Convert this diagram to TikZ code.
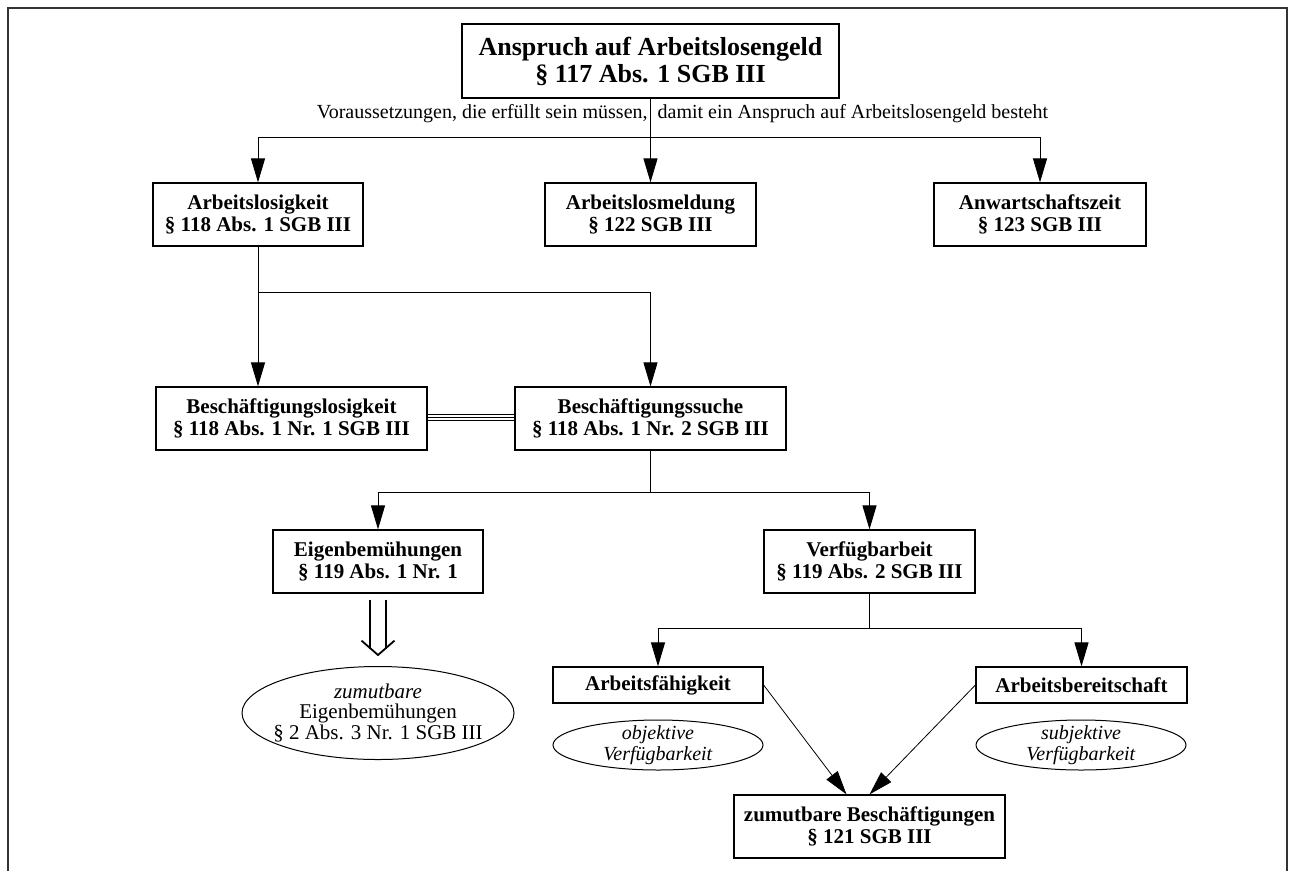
\documentclass[tikz,border=0pt]{standalone}
\usepackage{fontspec}
\setmainfont{Liberation Serif}
\usetikzlibrary{arrows.meta,shapes.geometric,calc}

\tikzset{
  kasten/.style={draw, line width=1.2pt, align=center, inner sep=0pt,
    minimum width=210pt, minimum height=63pt,
    font=\bfseries\fontsize{21}{22}\selectfont},
  oval/.style={draw, ellipse, line width=1pt, inner sep=0pt},
  ovaltext/.style={align=center, inner sep=0pt, font=\fontsize{20}{20.5}\selectfont},
  pfeil/.style={line width=1pt, -{Triangle[length=24pt,width=14pt]}},
  linie/.style={line width=1pt},
  doppel/.style={line width=1.8pt, line join=miter},
}

\begin{document}
\begin{tikzpicture}[x=1pt, y=-1pt]
\useasboundingbox (0,0) rectangle (1295,871);
\draw[line width=1.5pt, black!80] (8,871) -- (8,8) -- (1287,8) -- (1287,871);

\node[kasten, minimum width=377pt, minimum height=74pt, font=\bfseries\fontsize{26}{27}\selectfont] (n_anspruch) at (650.5,61) {Anspruch auf Arbeitslosengeld\\§ 117 Abs. 1 SGB III};
\node[inner sep=0pt, font=\fontsize{20}{21}\selectfont] (n_voraus) at (682.5,114) {Voraussetzungen, die erfüllt sein müssen,\ \ damit ein Anspruch auf Arbeitslosengeld besteht};
\node[kasten] (n_arbeitslos) at (258,214.5) {Arbeitslosigkeit\\§ 118 Abs. 1 SGB III};
\node[kasten, minimum width=211pt] (n_meldung) at (650.5,214.5) {Arbeitslosmeldung\\§ 122 SGB III};
\node[kasten, minimum width=212pt] (n_anwart) at (1040,214.5) {Anwartschaftszeit\\§ 123 SGB III};
\node[kasten, minimum width=271pt] (n_beschlos) at (291.5,418.5) {Beschäftigungslosigkeit\\§ 118 Abs. 1 Nr. 1 SGB III};
\node[kasten, minimum width=271pt] (n_beschsuche) at (650.5,418.5) {Beschäftigungssuche\\§ 118 Abs. 1 Nr. 2 SGB III};
\node[kasten] (n_eigen) at (378,561.5) {Eigenbemühungen\\§ 119 Abs. 1 Nr. 1};
\node[kasten, minimum width=211pt] (n_verfueg) at (869.5,561.5) {Verfügbarbeit\\§ 119 Abs. 2 SGB III};
\node[kasten, minimum height=36pt] (n_faehig) at (658,685) {Arbeitsfähigkeit};
\node[kasten, minimum width=211pt, minimum height=36pt] (n_bereit) at (1081.5,685) {Arbeitsbereitschaft};
\node[kasten, minimum width=271pt] (n_zumutbar) at (869.5,826.5) {zumutbare Beschäftigungen\\§ 121 SGB III};

\node[oval, minimum width=272pt, minimum height=93pt,
  label={[ovaltext, font=\fontsize{21}{20.5}\selectfont]center:{\textit{zumutbare}\\Eigenbemühungen\\§ 2 Abs. 3 Nr. 1 SGB III}}] (n_eigenzu) at (378,713) {};
\node[oval, minimum width=210pt, minimum height=50pt,
  label={[ovaltext]center:{\textit{objektive}\\\textit{Verfügbarkeit}}}] (n_objektiv) at (658,745) {};
\node[oval, minimum width=210pt, minimum height=50pt,
  label={[ovaltext]center:{\textit{subjektive}\\\textit{Verfügbarkeit}}}] (n_subjektiv) at (1081,745) {};

\coordinate (g_1) at (650.5,137);
\coordinate (g_2) at (258,292);
\coordinate (g_3) at (650.5,492);
\coordinate (g_4) at (869.5,628);

\draw[linie] (n_anspruch.south) -- (g_1);
\draw[pfeil] (g_1) -- (n_meldung.north);
\draw[pfeil] (g_1) -| (n_arbeitslos.north);
\draw[pfeil] (g_1) -| (n_anwart.north);

\draw[linie] (n_arbeitslos.south) -- (g_2);
\draw[pfeil] (g_2) -- (g_2 |- n_beschlos.north);
\draw[pfeil] (g_2) -| (n_beschsuche.north);
\foreach \d in {-4.5,-1.5,1.5}
  \draw[line width=1pt] ($(n_beschlos.east)+(0,\d)$) -- ($(n_beschsuche.west)+(0,\d)$);

\draw[linie] (n_beschsuche.south) -- (g_3);
\draw[pfeil] (g_3) -| (n_eigen.north);
\draw[pfeil] (g_3) -| (n_verfueg.north);
% Folgerungspfeil
\draw[doppel] ($(n_eigen.south)+(-8,6)$) -- ($(n_eigen.south)+(-8,55)$);
\draw[doppel] ($(n_eigen.south)+(8,6)$) -- ($(n_eigen.south)+(8,55)$);
\draw[doppel] ($(n_eigen.south)+(-16.5,47)$) -- ($(n_eigenzu.north)+(0,-11)$) -- ($(n_eigen.south)+(16.5,47)$);

\draw[linie] (n_verfueg.south) -- (g_4);
\draw[pfeil] (g_4) -| (n_faehig.north);
\draw[pfeil] (g_4) -| (n_bereit.north);
\draw[pfeil, line width=0.8pt] (n_faehig.east) -- ($(n_zumutbar.north)+(-23,0)$);
\draw[pfeil, line width=0.8pt] (n_bereit.west) -- (n_zumutbar.north);

\end{tikzpicture}
\end{document}
